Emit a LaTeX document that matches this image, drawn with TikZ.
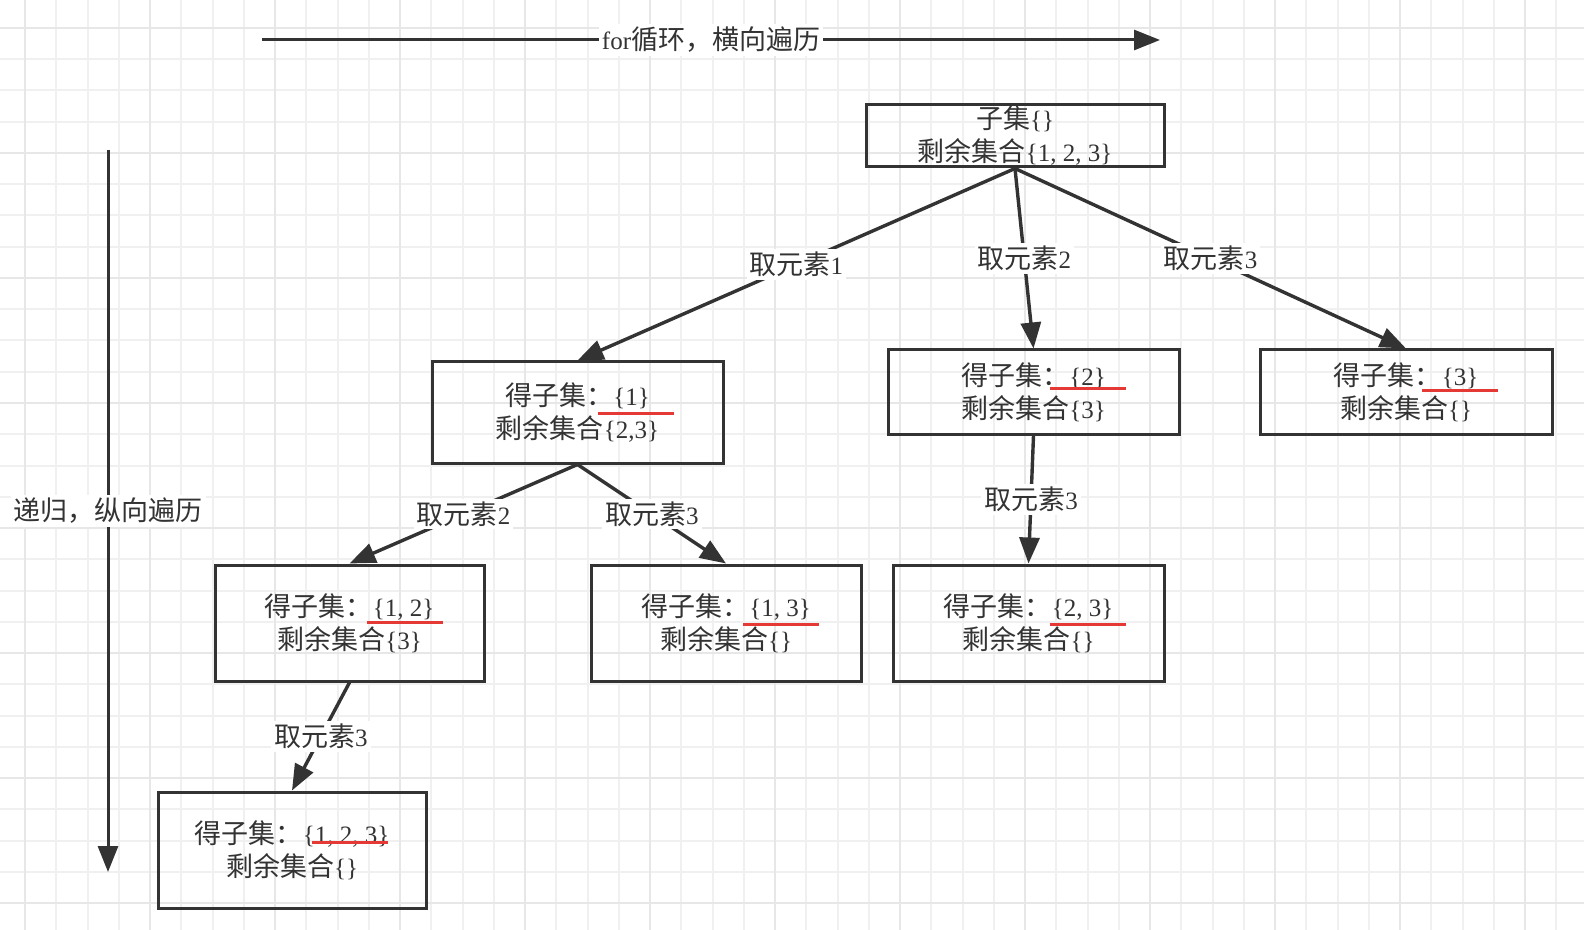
\documentclass[tikz,border=0pt]{standalone}
\usepackage{fontspec}
\setmainfont{Liberation Serif}
\newfontfamily\zh[Scale=1.08]{Noto Sans CJK SC}
\usetikzlibrary{arrows.meta,calc}

\definecolor{ink}{HTML}{333333}
\definecolor{gridminor}{HTML}{F0F0F0}
\definecolor{gridmajor}{HTML}{E7E7E7}
\definecolor{markred}{HTML}{E53935}

\begin{document}
\begin{tikzpicture}[x=0.5pt,y=-0.5pt,>={Triangle[length=13pt,width=10pt]},
  font=\fontsize{12.5}{16.5}\selectfont,text=ink,
  set node/.style={rectangle,draw=ink,line width=1.5pt,inner sep=0pt,align=center},
  box size/.style 2 args={minimum width=#1*0.5pt,minimum height=#2*0.5pt},
  step label/.style={fill=white,inner sep=1.5pt},
  link/.style={->,color=ink,line width=1.7pt},
  mark line/.style={draw=markred,line width=1.5pt}]

  % grid paper
  \fill[white] (0,0) rectangle (1584,930);
  \foreach \i in {0,...,49}
    \draw[gridminor,line width=1pt] ({25+31.25*\i},0) -- ({25+31.25*\i},930);
  \foreach \j in {0,...,28}
    \draw[gridminor,line width=1pt] (0,{28+31.25*\j}) -- (1584,{28+31.25*\j});
  \foreach \i in {0,4,...,48}
    \draw[gridmajor,line width=1pt] ({25+31.25*\i},0) -- ({25+31.25*\i},930);
  \foreach \j in {0,4,...,28}
    \draw[gridmajor,line width=1pt] (0,{28+31.25*\j}) -- (1584,{28+31.25*\j});

  % direction arrows
  \coordinate (for start) at (262,40);
  \coordinate (for end) at (1160,40);
  \coordinate (rec start) at (108,150);
  \coordinate (rec end) at (108,872);
  \draw[link,line width=1.5pt] (for start) -- node[step label] {for{\zh 循环，横向遍历}} (for end);
  \draw[link,line width=1.5pt] (rec start) -- node[step label] {{\zh 递归，纵向遍历}} (rec end);

  % tree
  \node[set node,box size={298}{62}] (root) at (1015,136)
    {{\zh 子集}\{\}\\{\zh 剩余集合}\{1, 2, 3\}};
  \node[set node,box size={291}{101}] (a1) at (577.5,412.5)
    {{\zh 得子集：}\{1\}\\{\zh 剩余集合}\{2,3\}};
  \node[set node,box size={291}{84}] (a2) at (1033.5,392)
    {{\zh 得子集：}\{2\}\\{\zh 剩余集合}\{3\}};
  \node[set node,box size={292}{84}] (a3) at (1406,392)
    {{\zh 得子集：}\{3\}\\{\zh 剩余集合}\{\}};
  \node[set node,box size={269}{116}] (b12) at (349.5,623)
    {{\zh 得子集：}\{1, 2\}\\{\zh 剩余集合}\{3\}};
  \node[set node,box size={270}{116}] (b13) at (726,623)
    {{\zh 得子集：}\{1, 3\}\\{\zh 剩余集合}\{\}};
  \node[set node,box size={271}{116}] (b23) at (1028.5,623)
    {{\zh 得子集：}\{2, 3\}\\{\zh 剩余集合}\{\}};
  \node[set node,box size={268}{116}] (c123) at (292,850)
    {{\zh 得子集：}\{1, 2, 3\}\\{\zh 剩余集合}\{\}};

  \path[link]
    (root.south) edge node[step label] {{\zh 取元素}1} (a1.north)
    (root.south) edge node[step label] {{\zh 取元素}2} (a2.north)
    (root.south) edge node[step label] {{\zh 取元素}3} (a3.north)
    (a1.south) edge node[step label] {{\zh 取元素}2} (b12.north)
    (a1.south) edge node[step label] {{\zh 取元素}3} (b13.north)
    (a2.south) edge node[step label] {{\zh 取元素}3} (b23.north)
    (b12.south) edge node[step label] {{\zh 取元素}3} (c123.north);

  % red underlines
  \draw[mark line] ($(a1.center)+(20,1)$) -- ++(76,0);
  \draw[mark line] ($(a2.center)+(16,-3)$) -- ++(76,0);
  \draw[mark line] ($(a3.center)+(16,-1)$) -- ++(76,0);
  \draw[mark line] ($(b12.center)+(17,-1)$) -- ++(76,0);
  \draw[mark line] ($(b13.center)+(17,1)$) -- ++(76,0);
  \draw[mark line] ($(b23.center)+(21,1)$) -- ++(76,0);
  \draw[mark line] ($(c123.center)+(20,-8)$) -- ++(76,0);

  \pgfresetboundingbox
  \useasboundingbox (0,0) rectangle (1584,930);
\end{tikzpicture}
\end{document}
